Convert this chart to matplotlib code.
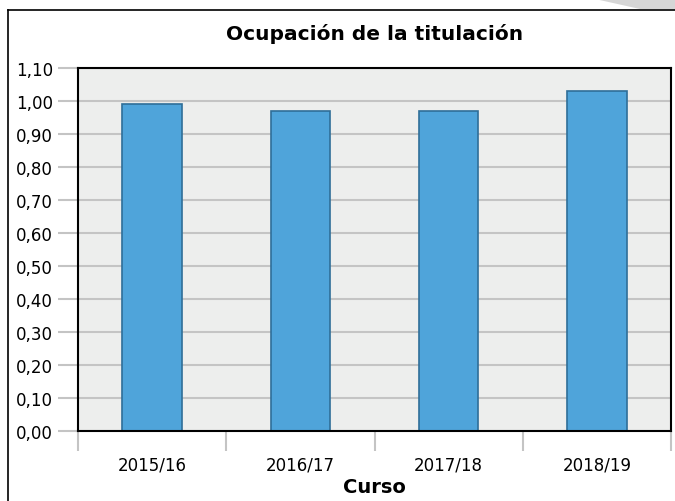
import matplotlib.pyplot as plt
from matplotlib.lines import Line2D
from matplotlib.patches import Polygon
from matplotlib.ticker import FuncFormatter

# datos de la gráfica
cursos = ['2015/16', '2016/17', '2017/18', '2018/19']
ocupacion = [0.99, 0.97, 0.97, 1.03]
y_ticks = [0.0, 0.1, 0.2, 0.3, 0.4, 0.5, 0.6, 0.7, 0.8, 0.9, 1.0, 1.1]

W, H = 675, 502
fig = plt.figure(figsize=(W / 100, H / 100), dpi=100)
fig.patch.set_facecolor('white')

# esquina doblada arriba a la derecha y marco de la página
fig.add_artist(Polygon([(595 / W, 1), (675 / W, 1), (675 / W, 1 - 10 / H), (640 / W, 1 - 10 / H)],
                       closed=True, facecolor='#d6d6d6', edgecolor='none', transform=fig.transFigure))
fig.add_artist(Line2D([8 / W, 8 / W], [0, 1 - 11 / H], color='black', lw=1.2))
fig.add_artist(Line2D([8 / W, 1], [1 - 11 / H, 1 - 11 / H], color='black', lw=1.2))

ax = fig.add_axes([78 / W, 1 - 432 / H, (671 - 78) / W, (432 - 69) / H])
ax.set_facecolor('#edeeed')

x = range(len(cursos))
ax.bar(x, ocupacion, width=0.4, color='#4fa4da', edgecolor='#2f6e98', linewidth=1.2, zorder=3)

ax.set_xlim(-0.5, len(cursos) - 0.5)
ax.set_ylim(0, 1.1)
ax.set_yticks(y_ticks)
ax.yaxis.set_major_formatter(FuncFormatter(lambda v, p: f'{v:.2f}'.replace('.', ',')))
ax.grid(axis='y', color='#c4c4c4', lw=1.5, zorder=1)
ax.tick_params(axis='y', length=14.5, width=1.5, color='#c4c4c4', pad=3.5, labelsize=12)

ax.set_xticks(list(x))
ax.set_xticklabels(cursos)
ax.set_xticks([i - 0.5 for i in range(len(cursos) + 1)], minor=True)
ax.tick_params(axis='x', which='major', length=0, pad=18, labelsize=12)
ax.tick_params(axis='x', which='minor', length=14.5, width=1.5, color='#c4c4c4')

for s in ax.spines.values():
    s.set_linewidth(1.5)
    s.set_color('black')
    s.set_zorder(4)

ax.set_title('Ocupación de la titulación', fontsize=14.5, fontweight='bold', pad=21)
ax.set_xlabel('Curso', fontsize=14, fontweight='bold', labelpad=2)

fig.savefig('out.png', dpi=100)
